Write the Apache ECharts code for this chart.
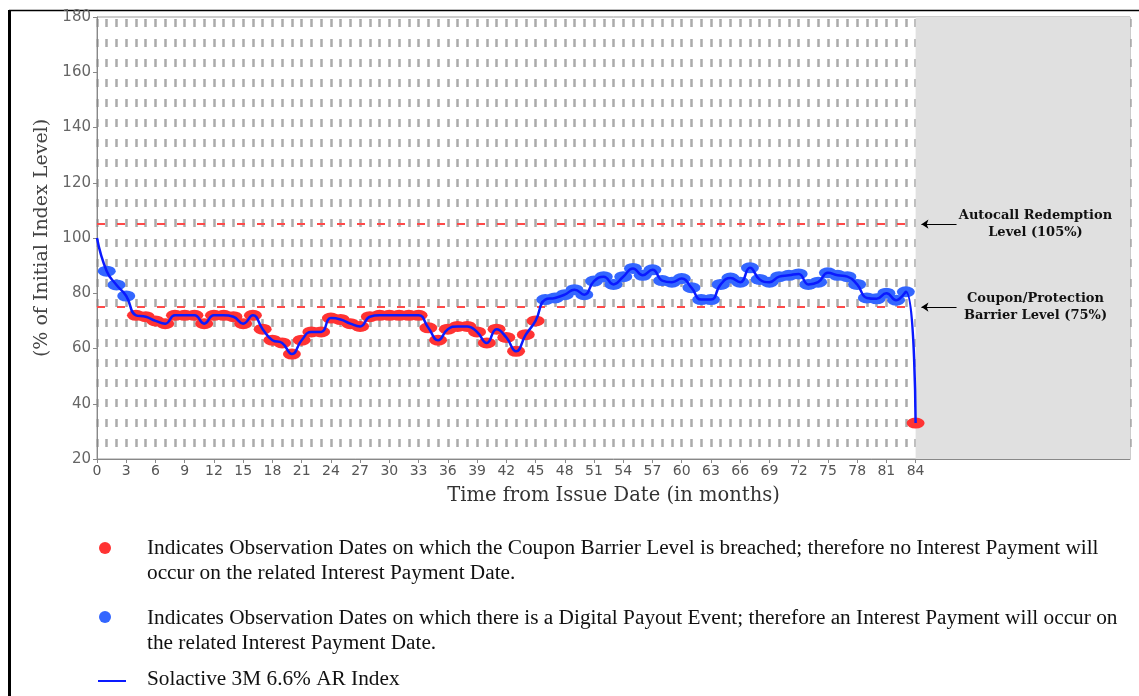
<!DOCTYPE html>
<html><head><meta charset="utf-8">
<script src="https://cdn.jsdelivr.net/npm/echarts@6/dist/echarts.min.js"></script>
<style>html,body{margin:0;padding:0;background:#fff;}#c{width:1139px;height:696px;}</style>
</head><body><div id="c"></div>
<script>
// ---- data ----
const months = [0,1,2,3,4,5,6,7,8,9,10,11,12,13,14,15,16,17,18,19,20,21,22,23,24,25,26,27,28,29,30,31,32,33,34,35,36,37,38,39,40,41,42,43,44,45,46,47,48,49,50,51,52,53,54,55,56,57,58,59,60,61,62,63,64,65,66,67,68,69,70,71,72,73,74,75,76,77,78,79,80,81,82,83,84];
const indexLevels = [100,88,83,79,72,71.5,70,69,72,72,72,69,72,72,71.5,69,72,67,63,62,58,63,66,66,71,70.5,69,68,71.5,72,72,72,72,72,67.5,63,67,68,68,66,62,67,64,59,65,70,77.7,78.3,79.5,81.3,79.5,84.4,86,83.2,86,89,86.5,88.5,84.6,84,85.3,82,77.7,77.7,83.2,85.5,84,89.2,85,84,86,86.5,87,83.2,84,87.4,86.5,86,83.2,78.3,78,80,77.5,80.5,33];
const xTickLabels = [0,3,6,9,12,15,18,21,24,27,30,33,36,39,42,45,48,51,54,57,60,63,66,69,72,75,78,81,84];
const yTickLabels = [20,40,60,80,100,120,140,160,180];
const autocallLevel = 105;
const couponBarrier = 75;
const maturityMonth = 84;
const axisEndMonth = 106;
const autocallText = 'Autocall Redemption\nLevel (105%)';
const couponText = 'Coupon/Protection\nBarrier Level (75%)';
const legendTexts = [
  'Indicates Observation Dates on which the Coupon Barrier Level is breached; therefore no Interest Payment will\noccur on the related Interest Payment Date.',
  'Indicates Observation Dates on which there is a Digital Payout Event; therefore an Interest Payment will occur on\nthe related Interest Payment Date.',
  'Solactive 3M 6.6% AR Index'
];

const RED = '#ff3333', BLUE_DOT = '#3366ff', LINE_BLUE = '#0a1aff';
const linePts = months.map((m, i) => [m, indexLevels[i]]);
const obsPts = linePts.slice(1);
const LEG_FONT = '21.3px "Liberation Serif"';

const chart = echarts.init(document.getElementById('c'), null, {renderer: 'canvas'});
const option = {
  animation: false,
  backgroundColor: '#fff',
  grid: {left: 97, right: 9, top: 17, bottom: 237, show: true, borderColor: '#999', borderWidth: 1},
  xAxis: [{
    type: 'value', min: 0, max: axisEndMonth, interval: 3,
    name: 'Time from Issue Date (in months)', nameLocation: 'middle', nameGap: 27,
    nameTextStyle: {fontFamily: 'DejaVu Serif', fontSize: 19.5, color: '#333'},
    axisLine: {show: true, lineStyle: {color: '#888'}},
    axisTick: {show: true, length: 4, lineStyle: {color: '#888'}, customValues: xTickLabels},
    axisLabel: {color: '#555', fontSize: 14, fontFamily: 'DejaVu Sans', margin: 5, customValues: xTickLabels},
    splitLine: {show: false}
  }, {
    type: 'value', min: 0, max: axisEndMonth, interval: 1, position: 'top',
    axisLine: {show: false}, axisTick: {show: false}, axisLabel: {show: false},
    splitLine: {show: true, lineStyle: {color: '#ababab', width: 2.5, type: [8, 12], dashOffset: -2}}
  }],
  yAxis: {
    type: 'value', min: 20, max: 180, interval: 20,
    name: '(% of Initial Index Level)', nameLocation: 'middle', nameGap: 37,
    nameTextStyle: {fontFamily: 'DejaVu Serif', fontSize: 19, color: '#444'},
    axisLine: {show: true, lineStyle: {color: '#888'}},
    axisTick: {show: true, length: 4, lineStyle: {color: '#888'}},
    axisLabel: {color: '#666', fontSize: 15, fontFamily: 'DejaVu Sans', margin: 6,
      customValues: yTickLabels},
    splitLine: {show: false}
  },
  series: [{
    type: 'scatter', name: 'obs', z: 3, silent: true,
    symbol: 'circle', symbolSize: [18, 11],
    itemStyle: {color: p => (p.value[1] < couponBarrier ? RED : BLUE_DOT), opacity: 1},
    data: obsPts,
    markArea: {silent: true, itemStyle: {color: '#e0e0e0'},
      data: [[{xAxis: maturityMonth}, {xAxis: axisEndMonth}]]},
    markLine: {
      silent: true, symbol: 'none', label: {show: false},
      lineStyle: {color: '#ff4a4a', width: 2, type: [8, 12]},
      data: [
        [{coord: [0, autocallLevel]}, {coord: [maturityMonth, autocallLevel]}],
        [{coord: [0, couponBarrier]}, {coord: [maturityMonth, couponBarrier]}]
      ]
    }
  }, {
    type: 'line', name: 'Solactive 3M 6.6% AR Index', z: 5, silent: true,
    smooth: 0.5, showSymbol: false,
    lineStyle: {color: LINE_BLUE, width: 2.5},
    data: linePts,
    markLine: {
      silent: true, symbol: ['none', 'arrow'], symbolSize: 7, label: {show: false},
      lineStyle: {color: '#000', width: 1, type: 'solid'},
      data: [
        [{coord: [88.2, autocallLevel]}, {coord: [84.6, autocallLevel]}],
        [{coord: [88.2, couponBarrier]}, {coord: [84.6, couponBarrier]}]
      ]
    },
    markPoint: {
      silent: true, symbol: 'rect', symbolSize: 1,
      itemStyle: {color: 'rgba(0,0,0,0)'},
      label: {show: true, position: 'inside', fontFamily: 'DejaVu Serif', fontWeight: 'bold',
        fontSize: 13, color: '#111', lineHeight: 17, align: 'center', verticalAlign: 'middle',
        formatter: p => p.data.txt},
      data: [
        {coord: [96.3, autocallLevel], txt: autocallText},
        {coord: [96.3, couponBarrier], txt: couponText}
      ]
    }
  }],
  graphic: [
    {type: 'line', shape: {x1: 9, y1: 10.5, x2: 1139, y2: 10.5}, style: {stroke: '#000', lineWidth: 1.5}},
    {type: 'line', shape: {x1: 9.5, y1: 10, x2: 9.5, y2: 696}, style: {stroke: '#000', lineWidth: 3}},
    {type: 'circle', shape: {cx: 105, cy: 548, r: 6}, style: {fill: RED}},
    {type: 'text', left: 147, top: 536, style: {text: legendTexts[0], font: LEG_FONT, fill: '#111', lineHeight: 25}},
    {type: 'circle', shape: {cx: 105, cy: 617, r: 6}, style: {fill: BLUE_DOT}},
    {type: 'text', left: 147, top: 606, style: {text: legendTexts[1], font: LEG_FONT, fill: '#111', lineHeight: 25}},
    {type: 'line', shape: {x1: 98, y1: 681, x2: 126, y2: 681}, style: {stroke: LINE_BLUE, lineWidth: 2}},
    {type: 'text', left: 147, top: 667, style: {text: legendTexts[2], font: LEG_FONT, fill: '#111', lineHeight: 25}}
  ]
};
chart.setOption(option);
</script>
</body></html>
